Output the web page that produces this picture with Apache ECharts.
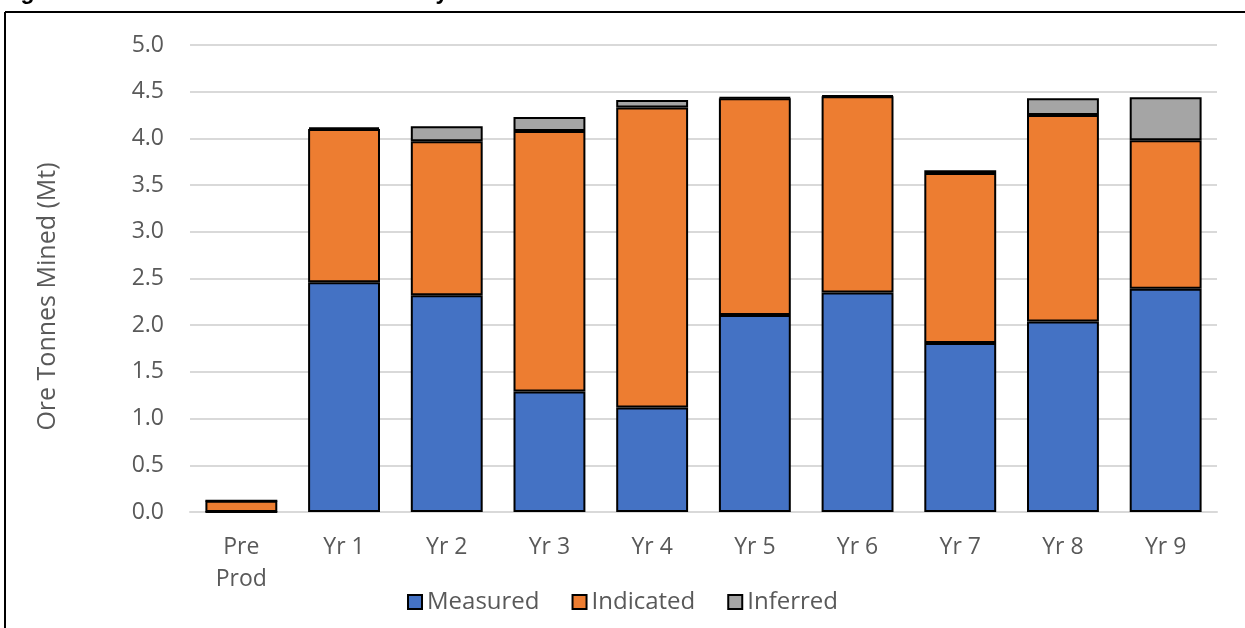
<!DOCTYPE html>
<html>
<head>
<meta charset="utf-8">
<script src="https://cdn.jsdelivr.net/npm/echarts@6/dist/echarts.min.js"></script>
<style>
  html, body { margin: 0; padding: 0; background: #ffffff; }
  #chart { width: 1245px; height: 628px; }
</style>
</head>
<body>
<div id="chart"></div>
<script>
// Ore mined per period, by resource classification (Mt)
const categories = ['Pre\nProd', 'Yr 1', 'Yr 2', 'Yr 3', 'Yr 4', 'Yr 5', 'Yr 6', 'Yr 7', 'Yr 8', 'Yr 9'];
const measured   = [0.00, 2.46, 2.32, 1.29, 1.12, 2.11, 2.35, 1.81, 2.04, 2.39];
const indicated  = [0.12, 1.64, 1.65, 2.79, 3.21, 2.32, 2.10, 1.82, 2.21, 1.59];
const inferred   = [0.00, 0.02, 0.16, 0.15, 0.08, 0.01, 0.01, 0.03, 0.18, 0.46];
const seriesNames = ['Measured', 'Indicated', 'Inferred'];
const seriesColors = ['#4472c4', '#ed7d31', '#a5a5a5'];

const FONT = '"Open Sans", "Noto Sans", sans-serif';
const chart = echarts.init(document.getElementById('chart'), null, { renderer: 'canvas' });

function barSeries(name, data, color) {
  return {
    name: name,
    type: 'bar',
    stack: 'ore',
    data: data,
    barWidth: '70%',
    itemStyle: { color: color, borderColor: '#000000', borderWidth: 2 },
    emphasis: { disabled: true }
  };
}

chart.setOption({
  animation: false,
  backgroundColor: '#ffffff',
  graphic: [
    // heading above the frame
    { type: 'text', left: 0, top: -19, style: { text: 'Figure 6', font: 'bold 23px "Liberation Sans", Arial, sans-serif', fill: '#000' } },
    { type: 'text', left: 245, top: -19, style: { text: 'LOM Ore Mined by Resource Classification', font: 'bold 23px "Liberation Sans", Arial, sans-serif', fill: '#000' } },
    // frame lines
    { type: 'line', shape: { x1: 5, y1: 12, x2: 1245, y2: 12 }, style: { stroke: '#000', lineWidth: 2 } },
    { type: 'line', shape: { x1: 5, y1: 12, x2: 5, y2: 628 }, style: { stroke: '#000', lineWidth: 2 } }
  ],
  grid: { left: 190, right: 28, top: 45, bottom: 116, containLabel: false },
  legend: {
    data: seriesNames,
    bottom: 9,
    left: 'center',
    itemWidth: 14,
    itemHeight: 14,
    itemGap: 32,
    icon: 'rect',
    itemStyle: { borderColor: '#000', borderWidth: 2 },
    textStyle: { color: '#595959', fontSize: 24, fontFamily: FONT, padding: [0, 0, 0, 0] }
  },
  xAxis: {
    type: 'category',
    data: categories,
    axisLine: { show: true, lineStyle: { color: '#d9d9d9', width: 2 } },
    axisTick: { show: false },
    axisLabel: { color: '#595959', fontSize: 23, fontFamily: FONT, lineHeight: 32, margin: 19 }
  },
  yAxis: {
    type: 'value',
    min: 0,
    max: 5,
    interval: 0.5,
    name: 'Ore Tonnes Mined (Mt)',
    nameLocation: 'middle',
    nameGap: 130,
    nameTextStyle: { color: '#595959', fontSize: 25, fontFamily: FONT, padding: [0, 36, 0, 0] },
    axisLine: { show: false },
    axisTick: { show: false },
    splitLine: { lineStyle: { color: '#d9d9d9', width: 2 } },
    axisLabel: {
      color: '#595959', fontSize: 23, fontFamily: FONT, margin: 26,
      formatter: v => v.toFixed(1)
    }
  },
  series: [
    barSeries(seriesNames[0], measured, seriesColors[0]),
    barSeries(seriesNames[1], indicated, seriesColors[1]),
    barSeries(seriesNames[2], inferred, seriesColors[2])
  ]
});
</script>
</body>
</html>
